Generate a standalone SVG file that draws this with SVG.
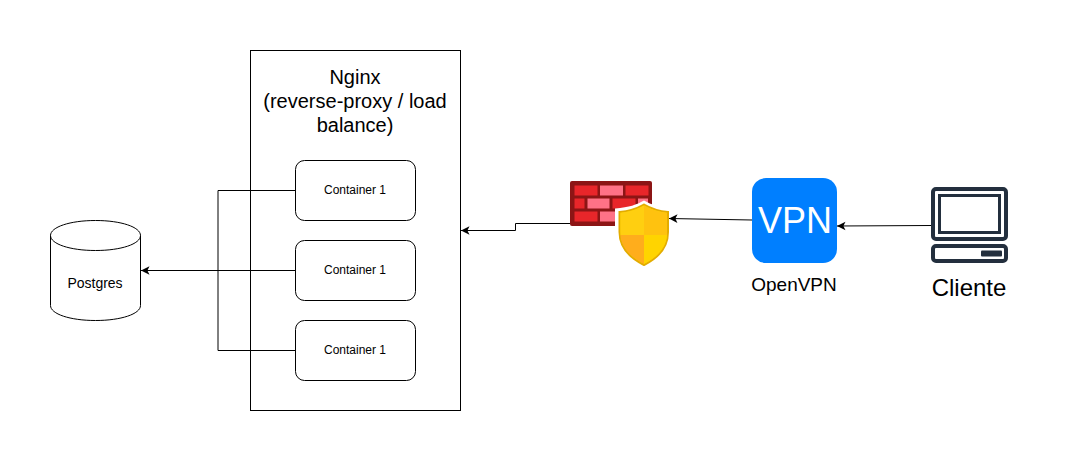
<svg xmlns="http://www.w3.org/2000/svg" width="1083" height="461" viewBox="0 0 1083 461">
<style>
text{font-family:"Liberation Sans",Arial,sans-serif;fill:#000;text-anchor:middle}
.s{font-size:12px}
.b{fill:#fff;stroke:#000;stroke-width:1}
.c{fill:none;stroke:#000;stroke-width:1}
.d{fill:none;stroke:#232f3e;stroke-width:4}
</style>
<defs>
<marker id="a" markerUnits="userSpaceOnUse" markerWidth="10" markerHeight="10" refX="9" refY="5" orient="auto"><path d="M0.500 0.700L9 5L0.500 9.300L2.600 5Z" fill="#000"/></marker>
</defs>
<rect width="1083" height="461" fill="#fff"/>
<g id="nginx"><rect class="b" x="250.500" y="50.500" width="210" height="360"/>
<text x="355" y="84" font-size="20">Nginx</text><text x="355" y="108" font-size="20">(reverse-proxy / load</text><text x="355" y="132" font-size="20">balance)</text></g>
<g id="container1"><rect class="b" x="295.500" y="160.500" width="120" height="60" rx="9"/><text class="s" x="355" y="194">Container 1</text></g>
<g id="container2"><rect class="b" x="295.500" y="240.500" width="120" height="60" rx="9"/><text class="s" x="355" y="274">Container 1</text></g>
<g id="container3"><rect class="b" x="295.500" y="320.500" width="120" height="60" rx="9"/><text class="s" x="355" y="354">Container 1</text></g>
<g id="postgres"><path class="b" d="M50.500 235.500C50.500 227 70 220.500 95.500 220.500S140.500 227 140.500 235.500V305.500C140.500 314 121 320.500 95.500 320.500S50.500 314 50.500 305.500Z"/><path class="c" d="M50.500 235.500C50.500 244 70 250.500 95.500 250.500S140.500 244 140.500 235.500"/><text x="95" y="288" font-size="14">Postgres</text></g>
<g id="firewall">
<rect x="570" y="181" width="82" height="45" rx="2" fill="#8c1515"/>
<g fill="#e8262a"><rect x="574.500" y="185.500" width="23" height="10"/><rect x="625.500" y="185.500" width="23" height="10"/><rect x="574.500" y="198.500" width="10" height="10"/><rect x="612.500" y="198.500" width="23" height="10"/><rect x="574.500" y="211.500" width="23" height="10"/><rect x="625.500" y="211.500" width="23" height="10"/></g>
<g fill="#ff7286"><rect x="600" y="185.500" width="23" height="10"/><rect x="587.500" y="198.500" width="22" height="10"/><rect x="638" y="198.500" width="10" height="10"/><rect x="600" y="211.500" width="23" height="10"/></g>
<path d="M615 208.500C630 207 636 205 644 200.500C652 205 658 207 672 208.500V232C672 250 660 262 644 270L615 258Z" fill="#fff"/>
<path d="M644 204.500C636 209 630 211 619.500 212V232C619.500 247 630 258 644 265C658 258 668 247 668 232V212C658 211 652 209 644 204.500Z" fill="#ffd400" stroke="#e3ac00" stroke-width="2"/>
<path d="M644 205.500V235H620.500V212.800C630 211.800 636 209.800 644 205.500Z" fill="#ffcf10"/>
<path d="M644 205.500C652 209.800 658 211.800 667 212.800V235H644Z" fill="#ffc20f"/>
<path d="M620.500 235H644V264C630 257 621 247 620.500 235Z" fill="#ffad1c"/>
<path d="M644 235H667C666.500 247 658 257 644 264Z" fill="#ffd400"/>
</g>
<g id="openvpn"><rect x="752" y="178" width="85" height="85" rx="14" fill="#007fff"/><text x="795" y="233" font-size="36" style="fill:#fff">VPN</text><text x="794" y="291" font-size="19">OpenVPN</text></g>
<g id="cliente">
<rect class="d" x="933" y="189" width="73" height="50" rx="3"/><rect x="939.500" y="195.500" width="60" height="37" fill="none" stroke="#232f3e" stroke-width="3"/>
<rect class="d" x="933" y="246" width="73" height="15" rx="3"/><rect x="981" y="250.500" width="21" height="6" rx="1" fill="#232f3e"/>
<text x="969" y="296" font-size="24">Cliente</text></g>
<g id="connectors">
<path class="c" d="M295.500 190.500H218V350.500H295.500"/>
<path class="c" d="M295.500 270.500H141" marker-end="url(#a)"/>
<path class="c" d="M570 223.500H515.500V230.500H461" marker-end="url(#a)"/>
<path class="c" d="M752 220L669 218.500" marker-end="url(#a)"/>
<path class="c" d="M931 225.500L837 226" marker-end="url(#a)"/>
</g>
</svg>
